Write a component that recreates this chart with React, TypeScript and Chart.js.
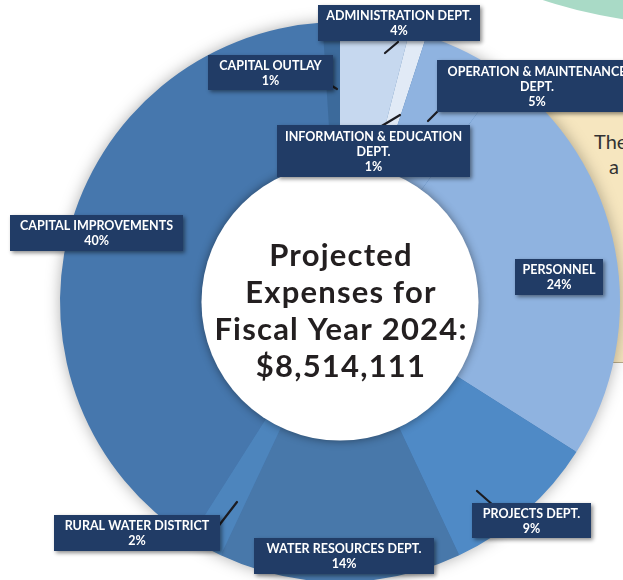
import React, { useEffect, useRef } from "react";
import { Chart, registerables } from "chart.js";

Chart.register(...registerables);

// ---- data ----
const categories = [
  "ADMINISTRATION DEPT.",
  "INFORMATION & EDUCATION DEPT.",
  "OPERATION & MAINTENANCE DEPT.",
  "PERSONNEL",
  "PROJECTS DEPT.",
  "WATER RESOURCES DEPT.",
  "RURAL WATER DISTRICT",
  "CAPITAL IMPROVEMENTS",
  "CAPITAL OUTLAY",
];
const percentages = [4, 1, 5, 24, 9, 14, 2, 40, 1];
const labelLines = [
  ["ADMINISTRATION DEPT."],
  ["INFORMATION & EDUCATION", "DEPT."],
  ["OPERATION & MAINTENANCE", "DEPT."],
  ["PERSONNEL"],
  ["PROJECTS DEPT."],
  ["WATER RESOURCES DEPT."],
  ["RURAL WATER DISTRICT"],
  ["CAPITAL IMPROVEMENTS"],
  ["CAPITAL OUTLAY"],
];
const centerLines = ["Projected", "Expenses for", "Fiscal Year 2024:", "$8,514,111"];

// ---- styling / layout ----
const sliceColors = [
  "#c6d8ef",
  "#e1eaf6",
  "#8fb3e0",
  "#8fb3e0",
  "#4f8ac6",
  "#4878aa",
  "#4d85bd",
  "#4677ad",
  "#3c6a9b",
];
// label boxes [x, y, w, h]
const labelBoxes = [
  [318, 5, 162, 36],
  [277, 125, 193, 52],
  [437, 60, 200, 52],
  [515, 259, 88, 36],
  [472, 503, 119, 35],
  [254, 538, 180, 36],
  [54, 515, 166, 36],
  [10, 215, 173, 36],
  [208, 55, 125, 35],
];
// leader lines [x1, y1, x2, y2] (null = none)
const leaders: (number[] | null)[] = [
  [398, 42, 385, 53],
  [400, 115, 375, 130],
  [445, 104, 428, 121],
  null,
  [477, 491, 494, 506],
  null,
  [237, 502, 217, 528],
  null,
  [327, 83, 337, 89],
];

const W = 623;
const H = 580;

const overlayPlugin = {
  id: "overlay",
  beforeDatasetsDraw(chart: any) {
    const meta = chart.getDatasetMeta(0);
    const arc = meta.data[0];
    if (!arc) return;
    const ctx = chart.ctx;
    ctx.save();
    ctx.shadowColor = "rgba(0,0,0,0.35)";
    ctx.shadowBlur = 16;
    ctx.beginPath();
    ctx.arc(arc.x, arc.y, arc.outerRadius - 1, 0, Math.PI * 2);
    ctx.fillStyle = "#4677ad";
    ctx.fill();
    ctx.restore();
  },
  afterDatasetsDraw(chart: any) {
    const meta = chart.getDatasetMeta(0);
    const arc = meta.data[0];
    if (!arc) return;
    const ctx = chart.ctx;
    const cx = arc.x;
    const cy = arc.y;
    // inner white circle with shadow
    ctx.save();
    ctx.shadowColor = "rgba(0,0,0,0.45)";
    ctx.shadowBlur = 10;
    ctx.beginPath();
    ctx.arc(cx, cy, arc.innerRadius + 0.5, 0, Math.PI * 2);
    ctx.fillStyle = "#ffffff";
    ctx.fill();
    ctx.restore();

    // center text
    ctx.save();
    ctx.fillStyle = "#231f20";
    ctx.font = "bold 31px Lato";
    (ctx as any).letterSpacing = "1.2px";
    ctx.textAlign = "center";
    ctx.textBaseline = "alphabetic";
    const baseY = cy - 36;
    centerLines.forEach((t, i) => {
      ctx.fillText(t, cx + 1, baseY + i * 37);
    });
    ctx.restore();

    // leader lines
    ctx.save();
    ctx.strokeStyle = "#1c1c22";
    ctx.lineWidth = 2.2;
    ctx.lineCap = "round";
    leaders.forEach((l) => {
      if (!l) return;
      ctx.beginPath();
      ctx.moveTo(l[0], l[1]);
      ctx.lineTo(l[2], l[3]);
      ctx.stroke();
    });
    ctx.restore();

    // label boxes
    categories.forEach((_, i) => {
      const [bx, by, bw, bh] = labelBoxes[i];
      ctx.save();
      ctx.shadowColor = "rgba(0,0,0,0.45)";
      ctx.shadowBlur = 4;
      ctx.shadowOffsetX = 2;
      ctx.shadowOffsetY = 2;
      ctx.fillStyle = "#213c66";
      ctx.fillRect(bx, by, bw, bh);
      ctx.restore();

      const lines = [...labelLines[i], `${percentages[i]}%`];
      ctx.save();
      ctx.fillStyle = "#ffffff";
      ctx.font = "bold 12.5px Lato";
      ctx.textAlign = "center";
      ctx.textBaseline = "middle";
      const lh = 15;
      const startY = by + bh / 2 - ((lines.length - 1) * lh) / 2 + 0.5;
      lines.forEach((t, j) => {
        ctx.fillText(t, bx + bw / 2, startY + j * lh);
      });
      ctx.restore();
    });
  },
};

export default function App() {
  const canvasRef = useRef<HTMLCanvasElement | null>(null);

  useEffect(() => {
    document.body.style.margin = "0";
    document.body.style.overflow = "hidden";
    const canvas = canvasRef.current;
    if (!canvas) return;
    const chart = new Chart(canvas, {
      type: "doughnut",
      data: {
        labels: categories,
        datasets: [
          {
            data: percentages,
            backgroundColor: sliceColors,
            borderWidth: 0,
            radius: 280,
            cutout: "49.3%",
            clip: false,
          } as any,
        ],
      },
      options: {
        animation: false,
        responsive: false,
        devicePixelRatio: 1,
        layout: { padding: { left: 57, top: 24, right: 0, bottom: 0 } },
        rotation: 0,
        plugins: {
          legend: { display: false },
          tooltip: { enabled: false },
        },
        events: [],
      } as any,
      plugins: [overlayPlugin],
    });
    return () => chart.destroy();
  }, []);

  return (
    <div
      style={{
        position: "fixed",
        left: 0,
        top: 0,
        width: W,
        height: H,
        overflow: "hidden",
        background: "#ffffff",
      }}
    >
      <div
        style={{
          position: "absolute",
          left: 690 - 464,
          top: -440 - 464,
          width: 928,
          height: 928,
          borderRadius: "50%",
          background: "#a9dac6",
        }}
      />
      <div
        style={{
          position: "absolute",
          left: 500,
          top: 111,
          width: 200,
          height: 250,
          background: "#f6e6bf",
          border: "1px solid #b9ab8a",
          borderRadius: 8,
          fontFamily: "Lato, sans-serif",
          color: "#333",
          fontSize: 20,
          overflow: "hidden",
        }}
      >
        <div style={{ position: "absolute", left: 93, top: 17, lineHeight: "24px", whiteSpace: "nowrap" }}>The</div>
        <div style={{ position: "absolute", left: 108, top: 42, lineHeight: "24px", whiteSpace: "nowrap" }}>a</div>
      </div>
      <canvas
        ref={canvasRef}
        width={W}
        height={H}
        style={{ position: "absolute", left: 0, top: 0, width: W, height: H }}
      />
    </div>
  );
}
